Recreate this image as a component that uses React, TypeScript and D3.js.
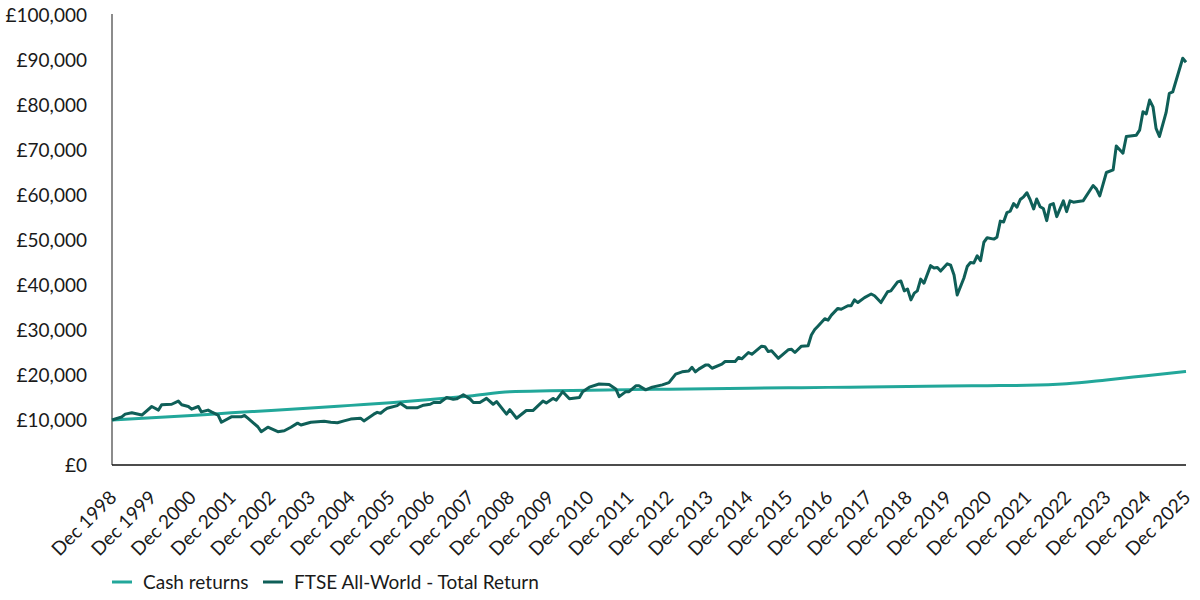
import { useEffect, useRef } from 'react';
import * as d3 from 'd3';

// Cash returns, value at each December
const cashDates = [
  '1998-12', '1999-12', '2000-12', '2001-12', '2002-12', '2003-12', '2004-12',
  '2005-12', '2006-12', '2007-12', '2008-12', '2009-12', '2010-12', '2011-12',
  '2012-12', '2013-12', '2014-12', '2015-12', '2016-12', '2017-12', '2018-12',
  '2019-12', '2020-12', '2021-12', '2022-12', '2023-12', '2024-12', '2025-12'
];
const cashValues = [
  10000, 10500, 11000, 11600, 12100, 12650, 13250,
  13850, 14550, 15350, 16300, 16500, 16620, 16750,
  16850, 16950, 17050, 17150, 17250, 17330, 17420,
  17550, 17620, 17700, 18050, 18900, 19850, 20800
];

// FTSE All-World - Total Return
const ftseDates = [
  '1998-12', '1999-03', '1999-04', '1999-06', '1999-09', '1999-12', '2000-02', '2000-03',
  '2000-06', '2000-08', '2000-09', '2000-11', '2000-12', '2001-02', '2001-03', '2001-05',
  '2001-06', '2001-08', '2001-09', '2001-12', '2002-03', '2002-04', '2002-05', '2002-08',
  '2002-09', '2002-11', '2003-02', '2003-04', '2003-06', '2003-08', '2003-09', '2003-12',
  '2004-04', '2004-06', '2004-08', '2004-10', '2004-12', '2005-03', '2005-04', '2005-07',
  '2005-08', '2005-09', '2005-10', '2005-11', '2006-02', '2006-03', '2006-05', '2006-08',
  '2006-10', '2006-12', '2007-01', '2007-03', '2007-05', '2007-07', '2007-08', '2007-10',
  '2007-12', '2008-01', '2008-03', '2008-05', '2008-07', '2008-08', '2008-11', '2008-12',
  '2009-02', '2009-05', '2009-07', '2009-10', '2009-11', '2010-01', '2010-02', '2010-04',
  '2010-06', '2010-09', '2010-10', '2010-12', '2011-03', '2011-06', '2011-08', '2011-09',
  '2011-11', '2011-12', '2012-02', '2012-03', '2012-05', '2012-07', '2012-10', '2012-12',
  '2013-02', '2013-04', '2013-06', '2013-07', '2013-08', '2013-09', '2013-11', '2013-12',
  '2014-01', '2014-04', '2014-05', '2014-08', '2014-09', '2014-10', '2014-12', '2015-01',
  '2015-04', '2015-05', '2015-06', '2015-07', '2015-09', '2015-12', '2016-01', '2016-02',
  '2016-04', '2016-06', '2016-07', '2016-08', '2016-09', '2016-11', '2016-12', '2017-01',
  '2017-03', '2017-04', '2017-06', '2017-07', '2017-08', '2017-09', '2017-11', '2018-01',
  '2018-02', '2018-04', '2018-06', '2018-07', '2018-09', '2018-10', '2018-11', '2018-12',
  '2019-01', '2019-02', '2019-03', '2019-04', '2019-05', '2019-07', '2019-08', '2019-09',
  '2019-10', '2019-12', '2020-01', '2020-02', '2020-03', '2020-05', '2020-06', '2020-07',
  '2020-08', '2020-09', '2020-10', '2020-11', '2020-12', '2021-02', '2021-03', '2021-04',
  '2021-05', '2021-06', '2021-07', '2021-08', '2021-09', '2021-10', '2021-11', '2021-12',
  '2022-01', '2022-02', '2022-03', '2022-04', '2022-05', '2022-06', '2022-07', '2022-08',
  '2022-09', '2022-11', '2022-12', '2023-01', '2023-02', '2023-03', '2023-05', '2023-08',
  '2023-09', '2023-10', '2023-12', '2024-02', '2024-03', '2024-05', '2024-06', '2024-09',
  '2024-10', '2024-11', '2024-12', '2025-01', '2025-02', '2025-03', '2025-04', '2025-06',
  '2025-07', '2025-08', '2025-11', '2025-12'
];
const ftseValues = [
  10000, 10700, 11300, 11600, 11100, 13000, 12200, 13400,
  13500, 14200, 13400, 13000, 12400, 13000, 11800, 12200,
  11800, 11100, 9500, 10700, 10700, 11000, 10400, 8500,
  7400, 8400, 7400, 7600, 8400, 9300, 8900, 9500,
  9700, 9500, 9400, 9800, 10200, 10400, 9800, 11300,
  11700, 11500, 12100, 12600, 13200, 13700, 12700, 12700,
  13300, 13500, 13900, 13900, 15000, 14600, 14700, 15600,
  14700, 13900, 13900, 14800, 13500, 14100, 11300, 12300,
  10400, 12100, 12100, 14200, 13800, 14800, 14400, 16300,
  14700, 15000, 16300, 17300, 18000, 17900, 16900, 15200,
  16300, 16300, 17600, 17600, 16700, 17300, 17800, 18300,
  20200, 20700, 20900, 21700, 20700, 21300, 22200, 22200,
  21500, 22400, 23000, 23000, 23900, 23600, 25000, 24600,
  26400, 26300, 25200, 25400, 23700, 25600, 25700, 25000,
  26400, 26500, 28900, 30100, 30900, 32500, 32200, 33300,
  34800, 34600, 35400, 35400, 36700, 36100, 37200, 38000,
  37600, 36100, 38500, 38700, 40700, 40900, 38700, 39100,
  36700, 38200, 38700, 41300, 40400, 44300, 43800, 43900,
  43100, 44700, 44400, 42200, 37800, 41500, 44100, 45000,
  44900, 46500, 45400, 49500, 50500, 50200, 50600, 54200,
  54000, 56100, 56400, 58100, 57300, 59000, 59600, 60500,
  58900, 56900, 59100, 57400, 57000, 54300, 57800, 58100,
  55200, 58700, 56300, 58700, 58400, 58500, 58700, 62100,
  61300, 59800, 65000, 65600, 70900, 69300, 73000, 73300,
  74400, 78500, 78000, 81100, 79600, 74800, 73000, 78300,
  82600, 82900, 90400, 89500
];

const yTicks = [0, 10000, 20000, 30000, 40000, 50000, 60000, 70000, 80000, 90000, 100000];
const xTickYears = d3.range(1998, 2026);

const seriesNames = ['Cash returns', 'FTSE All-World - Total Return'];
const seriesColors = ['#22a79a', '#0f5f58'];

const parseMonth = d3.timeParse('%Y-%m');

export default function App() {
  const svgRef = useRef<SVGSVGElement>(null);

  useEffect(() => {
    document.body.style.margin = '0';
    if (!svgRef.current) return;
    const svg = d3.select(svgRef.current);
    svg.selectAll('*').remove();

    const font = 'Lato, "Noto Sans", sans-serif';
    const left = 112, right = 1186, top = 15, bottom = 465;

    const x = d3.scaleTime()
      .domain([parseMonth('1998-12')!, parseMonth('2025-12')!])
      .range([left, right]);
    const y = d3.scaleLinear().domain([0, 100000]).range([bottom, top]);

    const cash = cashDates.map((d, i) => ({ date: parseMonth(d)!, value: cashValues[i] }));
    const ftse = ftseDates.map((d, i) => ({ date: parseMonth(d)!, value: ftseValues[i] }));

    // y tick labels
    svg.append('g')
      .selectAll('text')
      .data(yTicks)
      .join('text')
      .attr('x', left - 25)
      .attr('y', d => y(d))
      .attr('dy', '0.35em')
      .attr('text-anchor', 'end')
      .attr('font-family', font)
      .attr('font-size', 19)
      .attr('fill', '#1a1a1a')
      .text(d => '£' + d3.format(',')(d));

    // x tick labels
    svg.append('g')
      .selectAll('text')
      .data(xTickYears)
      .join('text')
      .attr('transform', d => `translate(${x(new Date(d, 11, 1)) + 1}, ${bottom + 29}) rotate(-45)`)
      .attr('text-anchor', 'end')
      .attr('dy', '0.35em')
      .attr('font-family', font)
      .attr('font-size', 19)
      .attr('fill', '#1a1a1a')
      .text(d => `Dec ${d}`);

    // axes lines
    svg.append('line')
      .attr('x1', left).attr('x2', left)
      .attr('y1', top - 1).attr('y2', bottom)
      .attr('stroke', '#8c8c8c')
      .attr('stroke-width', 2);
    svg.append('line')
      .attr('x1', left).attr('x2', right)
      .attr('y1', bottom).attr('y2', bottom)
      .attr('stroke', '#111')
      .attr('stroke-width', 1.5);

    const line = d3.line<{ date: Date; value: number }>()
      .x(d => x(d.date))
      .y(d => y(d.value));

    svg.append('path')
      .datum(cash)
      .attr('fill', 'none')
      .attr('stroke', seriesColors[0])
      .attr('stroke-width', 3)
      .attr('d', line.curve(d3.curveMonotoneX));

    svg.append('path')
      .datum(ftse)
      .attr('fill', 'none')
      .attr('stroke', seriesColors[1])
      .attr('stroke-width', 3)
      .attr('stroke-linejoin', 'round')
      .attr('d', line.curve(d3.curveLinear));

    // legend
    const legendX = [112, 263];
    const lg = svg.append('g');
    seriesNames.forEach((name, i) => {
      lg.append('line')
        .attr('x1', legendX[i]).attr('x2', legendX[i] + 20)
        .attr('y1', 582).attr('y2', 582)
        .attr('stroke', seriesColors[i])
        .attr('stroke-width', 3);
      lg.append('text')
        .attr('x', legendX[i] + 31)
        .attr('y', 582)
        .attr('dy', '0.35em')
        .attr('font-family', font)
        .attr('font-size', 19)
        .attr('fill', '#1a1a1a')
        .text(name);
    });
  }, []);

  return <svg ref={svgRef} width={1200} height={600} style={{ display: 'block' }} />;
}
